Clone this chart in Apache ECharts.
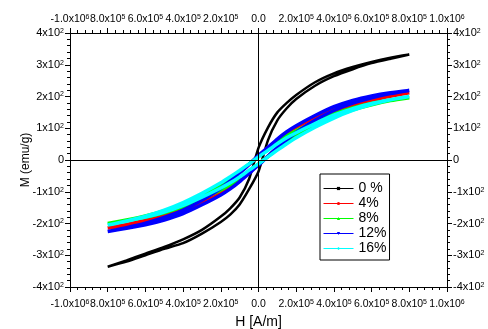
<!DOCTYPE html>
<html>
	<head>
		<meta charset="utf-8" />
		<title></title>
		<style type="text/css">
			html, body { margin: 0; padding: 0; background: #fff; }
		</style>
	</head>
	<body>
		<div id="chart" style="width:488px;height:329px;"></div>
	</body>
</html>
<script src="https://cdn.jsdelivr.net/npm/echarts/dist/echarts.min.js"></script>
<script>
	// field points of the two branches (A/m)
	var hDown = [800000, 700000, 600000, 500000, 400000, 300000, 200000, 150000, 100000, 50000, 0,
		-50000, -100000, -150000, -200000, -300000, -400000, -500000, -600000, -700000, -800000];
	var hUp = [-800000, -700000, -600000, -500000, -400000, -300000, -200000, -150000, -100000, -50000, 0,
		50000, 100000, 150000, 200000, 300000, 400000, 500000, 600000, 700000, 800000];

	var names = ['0 %', '4%', '8%', '12%', '16%'];
	var colors = ['#000000', '#ff0000', '#00ff00', '#0000ff', '#00ffff'];
	var symbols = ['rect', 'circle', 'triangle', 'triangle', 'diamond'];

	// M (emu/g), descending branch (hDown order) and ascending branch (hUp order)
	var m0Down = [332, 322, 309, 293, 273, 245, 205, 180, 150, 102, 38, -60, -118, -152, -178, -220, -250, -274, -295, -316, -336];
	var m0Up = [-336, -320, -300, -280, -262, -232, -195, -172, -140, -92, -36, 62, 125, 163, 192, 234, 264, 286, 305, 319, 332];
	var m4Down = [212, 204, 194, 180, 160, 133, 103, 85, 63, 38, 13, -14, -40, -64, -86, -122, -152, -174, -190, -203, -214];
	var m4Up = [-214, -206, -196, -182, -162, -135, -105, -87, -65, -40, -15, 12, 38, 62, 84, 120, 150, 172, 188, 201, 212];
	var m8Down = [196, 188, 178, 164, 145, 120, 92, 76, 56, 33, 11, -13, -36, -57, -77, -110, -138, -160, -176, -189, -200];
	var m8Up = [-200, -191, -180, -166, -147, -122, -94, -78, -58, -35, -13, 11, 34, 55, 75, 108, 136, 158, 174, 187, 196];
	var m12Down = [219, 212, 202, 188, 168, 140, 108, 89, 66, 40, 14, -14, -41, -66, -89, -127, -158, -181, -199, -213, -225];
	var m12Up = [-225, -215, -204, -189, -169, -141, -110, -91, -68, -42, -16, 12, 39, 64, 87, 125, 156, 179, 196, 209, 219];
	var m16Down = [200, 190, 178, 162, 141, 115, 86, 70, 51, 30, 10, -12, -33, -53, -72, -105, -134, -158, -177, -192, -205];
	var m16Up = [-205, -193, -180, -164, -143, -117, -88, -72, -53, -32, -12, 10, 31, 51, 70, 103, 132, 156, 175, 190, 200];

	var downs = [m0Down, m4Down, m8Down, m12Down, m16Down];
	var ups = [m0Up, m4Up, m8Up, m12Up, m16Up];

	var font = 'Liberation Sans, Arial, sans-serif';
	var myChart = echarts.init(document.getElementById('chart'));

	function loop(down, up) {
		var d = [];
		for (var i = 0; i < hDown.length; i++) {
			d.push([hDown[i], down[i]]);
		}
		for (var j = 1; j < hUp.length; j++) {
			d.push([hUp[j], up[j]]);
		}
		return d;
	}

	function xLabel(v) {
		if (v === 0) return '0.0';
		if (Math.abs(v) === 1000000) return (v < 0 ? '-' : '') + '1.0x10{s|6}';
		return (Math.abs(v) / 100000).toFixed(1) + 'x10{s|5}';
	}
	function yLabel(v) {
		if (v === 0) return '0';
		return (v / 100) + 'x10{s|2}';
	}

	var sup = { s: { fontSize: 7, verticalAlign: 'top', fontFamily: font, color: '#000' } };

	function xAxisOf(pos, showName) {
		return {
			type: 'value',
			position: pos,
			min: -1000000,
			max: 1000000,
			interval: 200000,
			name: showName ? 'H [A/m]' : '',
			nameLocation: 'middle',
			nameGap: 28,
			nameMoveOverlap: false,
			nameTextStyle: { fontSize: 14, color: '#000', fontFamily: font },
			axisLine: { show: true, onZero: false, lineStyle: { color: '#000', width: 1 } },
			axisTick: { show: true, length: 5, lineStyle: { color: '#000' } },
			minorTick: { show: true, splitNumber: 5, length: 3, lineStyle: { color: '#000' } },
			splitLine: { show: false },
			axisLabel: {
				formatter: xLabel, fontSize: 10.5, color: '#000', fontFamily: font,
				margin: pos === 'top' ? 8 : 12, showMinLabel: true, showMaxLabel: true, hideOverlap: false, rich: sup
			}
		};
	}
	function yAxisOf(pos, showName) {
		return {
			type: 'value',
			position: pos,
			min: -400,
			max: 400,
			interval: 100,
			name: showName ? 'M (emu/g)' : '',
			nameLocation: 'middle',
			nameGap: 38,
			nameMoveOverlap: false,
			nameTextStyle: { fontSize: 12, color: '#000', fontFamily: font },
			axisLine: { show: true, onZero: false, lineStyle: { color: '#000', width: 1 } },
			axisTick: { show: true, length: 5, lineStyle: { color: '#000' } },
			minorTick: { show: true, splitNumber: 5, length: 3, lineStyle: { color: '#000' } },
			splitLine: { show: false },
			axisLabel: { formatter: yLabel, fontSize: 11, color: '#000', fontFamily: font, margin: 6, rich: sup }
		};
	}

	var series = [];
	for (var k = 0; k < names.length; k++) {
		var s = {
			name: names[k],
			type: 'line',
			xAxisIndex: 0,
			yAxisIndex: 0,
			data: loop(downs[k], ups[k]),
			smooth: 0.2,
			symbol: symbols[k],
			symbolRotate: k === 3 ? 180 : 0,
			showSymbol: false,
			color: colors[k],
			lineStyle: { color: colors[k], width: k === 0 ? 2.5 : 3.5 }
		};
		if (k === 0) {
			s.markLine = {
				silent: true,
				symbol: ['none', 'none'],
				label: { show: false },
				lineStyle: { color: '#000', type: 'solid', width: 1 },
				data: [{ xAxis: 0 }, { yAxis: 0 }]
			};
		}
		series.push(s);
	}

	var options = {
		animation: false,
		backgroundColor: '#fff',
		grid: { left: 70, right: 41, top: 33, bottom: 42, outerBoundsMode: 'none' },
		legend: {
			orient: 'vertical',
			left: 320,
			top: 174,
			padding: [7, 3, 4, 3],
			itemGap: 0,
			itemWidth: 30,
			itemHeight: 4,
			borderColor: '#000',
			borderWidth: 1,
			borderRadius: 0,
			backgroundColor: '#fff',
			lineStyle: { width: 1 },
			textStyle: { fontSize: 14, color: '#000', fontFamily: font, lineHeight: 15 },
			data: names
		},
		xAxis: [xAxisOf('bottom', true), xAxisOf('top', false)],
		yAxis: [yAxisOf('left', true), yAxisOf('right', false)],
		series: series
	};

	myChart.setOption(options);
</script>
